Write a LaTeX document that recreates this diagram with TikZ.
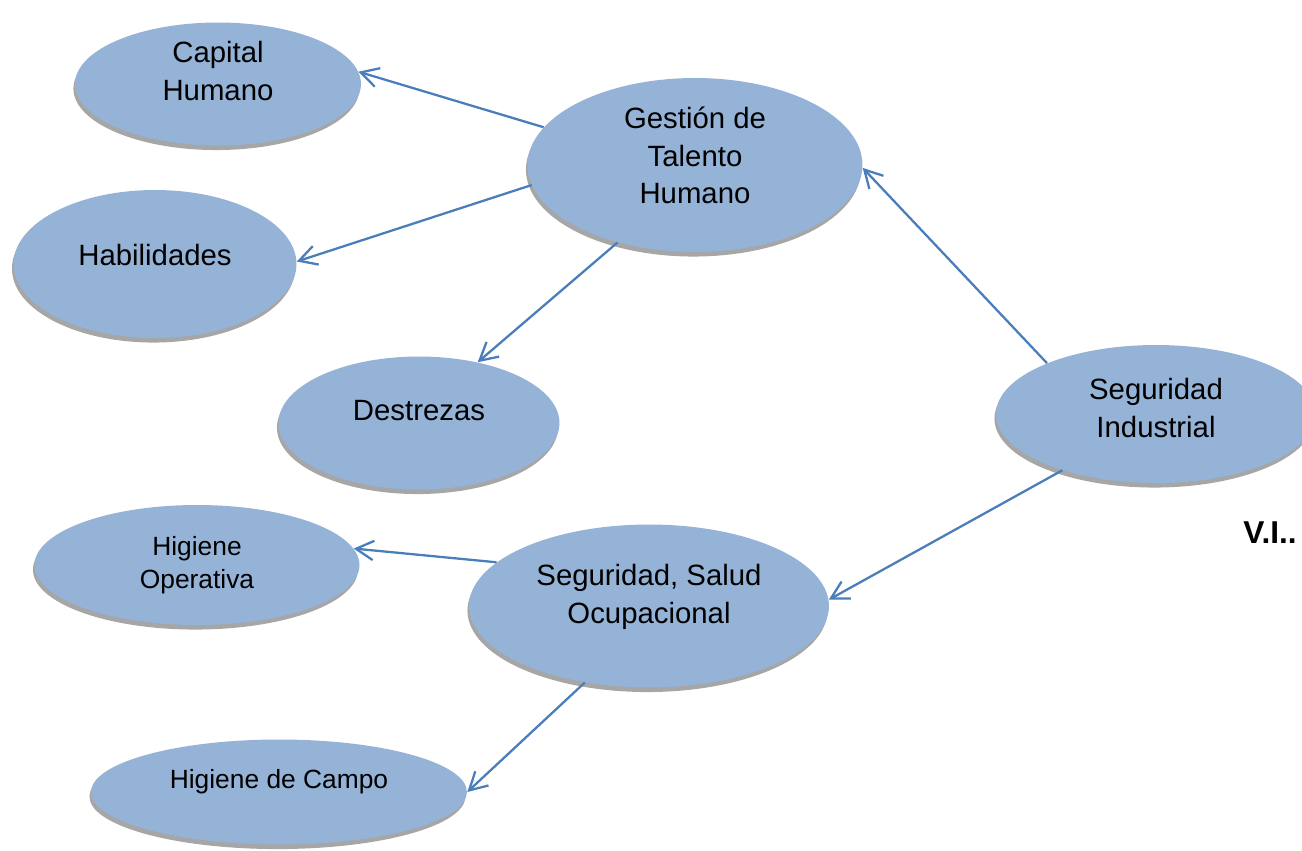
\documentclass[tikz,border=0pt]{standalone}
\usepackage{fontspec}
\setmainfont{Liberation Sans}
\usetikzlibrary{shapes.geometric,shadows,arrows.meta}
\definecolor{bubble}{HTML}{95B3D7}
\definecolor{arrowblue}{HTML}{4A7EBB}
\definecolor{shade}{HTML}{A6A6A6}

\begin{document}
\begin{tikzpicture}[x=0.02cm,y=-0.02cm,
    idea/.style={ellipse, fill=bubble, inner sep=0pt, align=center,
        font=\fontsize{16.7}{21.5}\selectfont,
        drop shadow={shadow xshift=-0.9pt, shadow yshift=-2.6pt, fill=shade, opacity=1}},
    small/.style={font=\fontsize{15}{18.7}\selectfont},
    conn/.style={-{Straight Barb[length=10pt,width=11pt]}, draw=arrowblue, line width=1.3pt}]
    \useasboundingbox (0,0) rectangle (1302,851);

    \node (cap) [idea, minimum width=5.72cm, minimum height=2.46cm, text depth=14.7pt] at (218,84) {Capital\\Humano};
    \node (gth) [idea, minimum width=6.7cm, minimum height=3.48cm, text depth=11pt] at (695,165) {Gestión de\\Talento\\Humano};
    \node (hab) [idea, minimum width=5.66cm, minimum height=2.96cm, text depth=10pt] at (155,264) {Habilidades};
    \node (des) [idea, minimum width=5.62cm, minimum height=2.66cm, text depth=14.7pt] at (419,423) {Destrezas};
    \node (sind) [idea, minimum width=6.4cm, minimum height=2.76cm, text depth=7pt] at (1156,414) {Seguridad\\Industrial};
    \node (hop) [idea, small, minimum width=6.5cm, minimum height=2.4cm] at (197,565) {Higiene\\Operativa};
    \node (sso) [idea, minimum width=7.2cm, minimum height=3.26cm, text depth=13.6pt] at (649,606) {Seguridad, Salud\\Ocupacional};
    \node (hcam) [idea, small, minimum width=7.52cm, minimum height=2.1cm, text depth=14.7pt] at (279,792) {Higiene de Campo};
    \node (vi) at (1270,533) {\bfseries\fontsize{18}{20}\selectfont V.I..};

    \draw [conn] (gth.166) -- (cap.5);
    \draw [conn] (gth.187) -- (hab.1);
    \draw [conn] (gth.225) -- (des.46);
    \draw [conn] (sind.155) -- (gth.359);
    \draw [conn] (sind.211) -- (sso.2);
    \draw [conn] (sso.164) -- (hop.6);
    \draw [conn] (sso.230) -- (hcam.0);
\end{tikzpicture}
\end{document}
